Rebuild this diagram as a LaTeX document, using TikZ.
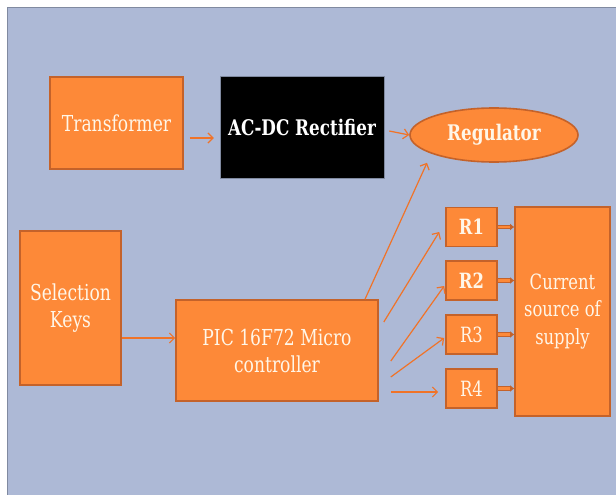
\documentclass[tikz,border=0pt]{standalone}
\usepackage{fontspec}
\setmainfont{DejaVu Serif}[FakeStretch=0.78]
\usetikzlibrary{shapes.geometric,arrows.meta,calc}
\definecolor{panelC}{RGB}{173,185,214}
\definecolor{panelB}{RGB}{128,138,160}
\definecolor{boxC}{RGB}{253,137,56}
\definecolor{edgeC}{RGB}{196,98,42}
\definecolor{arrC}{RGB}{240,115,40}
\definecolor{txtC}{RGB}{255,246,232}
\tikzset{
  obox/.style={draw=edgeC, line width=1.6pt, fill=boxC, text=txtC, align=center, inner sep=0pt,
    font=\fontsize{22}{27}\selectfont},
  boldtxt/.style={font=\fontsize{21.5}{26}\selectfont\bfseries},
  arr/.style={draw=arrC, line width=1.2pt, -{Straight Barb[length=5pt,width=10pt]}},
  dbl/.style={draw=edgeC, line width=1.2pt, double=boxC, double distance=2.2pt, -{Latex[length=4pt,width=7pt]}},
}
\begin{document}
\begin{tikzpicture}[x=1pt,y=1pt]
\useasboundingbox (0,0) rectangle (616,-495);
\fill[white] (0,0) rectangle (616,-495);
\draw[fill=panelC, draw=panelB, line width=1pt] (7,-8) rectangle (630,-510);
% nodes
\node[obox, minimum width=133pt, minimum height=92pt] (tr) at (116.5,-123) {Transformer};
\node[draw=panelB, line width=0.5pt, fill=black, text=white, inner sep=0pt, minimum width=164pt, minimum height=102pt,
  boldtxt] (rect) at (302,-127) {AC-DC Rectifier};
\node[obox, ellipse, minimum width=168pt, minimum height=54pt, boldtxt] (reg) at (494,-135) {Regulator};
\node[obox, minimum width=101pt, minimum height=154pt] (sel) at (70.5,-308) {Selection\\Keys};
\node[obox, minimum width=202pt, minimum height=101pt] (pic) at (277,-350.5) {PIC 16F72 Micro\\controller};
\node[obox, minimum width=51pt, minimum height=39pt, font=\fontsize{21}{26}\selectfont\bfseries] (r1) at (471.5,-227) {R1};
\node[obox, minimum width=51pt, minimum height=39pt, font=\fontsize{21}{26}\selectfont\bfseries] (r2) at (471.5,-280.5) {R2};
\node[obox, minimum width=51pt, minimum height=39pt, font=\fontsize{21}{26}\selectfont] (r3) at (471.5,-334.5) {R3};
\node[obox, minimum width=51pt, minimum height=39pt, font=\fontsize{21}{26}\selectfont] (r4) at (471.5,-388.5) {R4};
\node[obox, minimum width=95pt, minimum height=209pt, font=\fontsize{21}{27.5}\selectfont] (cur) at (562.5,-311.5) {Current\\source of\\supply};
% connectors
\draw[arr] ($(tr.east)+(6,-15)$) -- ($(rect.west)+(-6,-11)$);
\draw[arr] ($(rect.east)+(5,-4)$) -- (reg.west);
\draw[arr] ($(sel.east)+(0,-30)$) -- ($(pic.west)+(0,12.5)$);
\draw[arr] ($(pic.north)+(88,0)$) -- ($(reg.south)+(-67,0)$);
\draw[arr] ($(pic.east)+(5,28.5)$) -- ($(r1.west)+(-6,-5)$);
\draw[arr] ($(pic.east)+(12,-10.5)$) -- ($(r2.west)+(-1,-5.5)$);
\draw[arr] ($(pic.east)+(12,-26.5)$) -- ($(r3.west)+(-1,-3.5)$);
\draw[arr] ($(pic.east)+(12,-41.5)$) -- ($(r4.west)+(-7,-3.5)$);
\draw[dbl] (r1.east) -- (r1.east -| cur.west);
\draw[dbl] (r2.east) -- (r2.east -| cur.west);
\draw[dbl] (r3.east) -- (r3.east -| cur.west);
\draw[dbl] (r4.east) -- (r4.east -| cur.west);
\end{tikzpicture}
\end{document}
